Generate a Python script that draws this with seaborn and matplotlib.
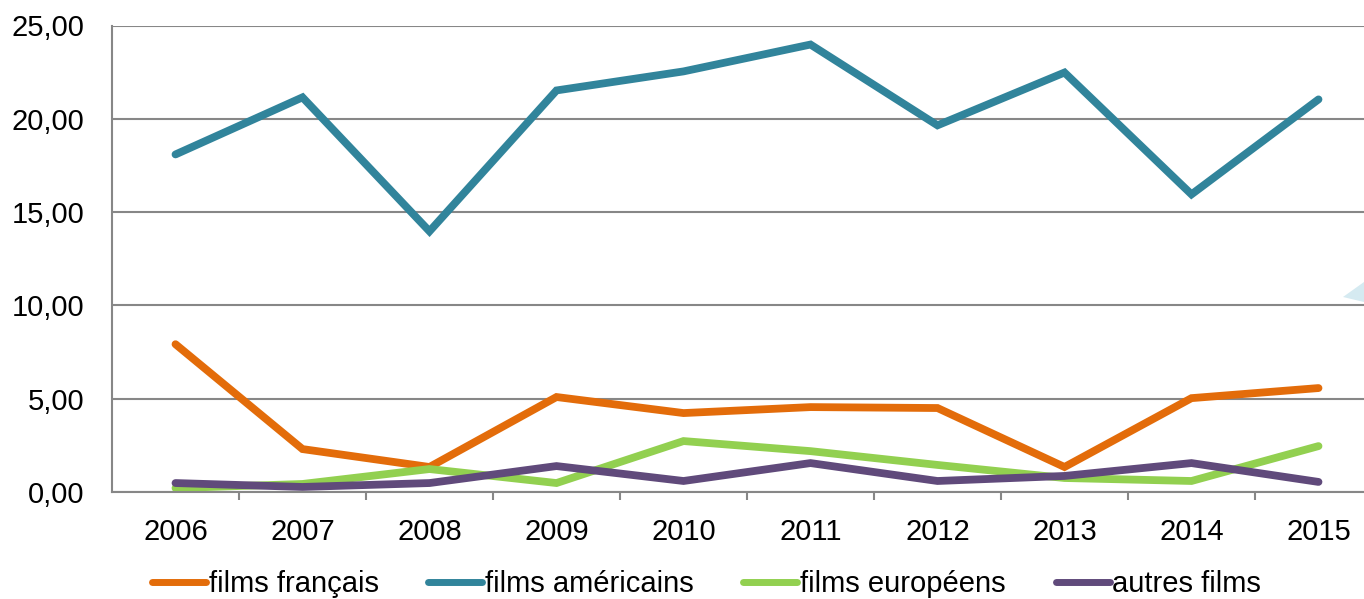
import matplotlib
matplotlib.use("Agg")
import matplotlib.pyplot as plt
import matplotlib.ticker as mticker
from matplotlib.patches import Polygon
import seaborn as sns
import pandas as pd

years = ["2006", "2007", "2008", "2009", "2010", "2011", "2012", "2013", "2014", "2015"]
series_names = ["films français", "films américains", "films européens", "autres films"]
films_francais = [7.92, 2.30, 1.34, 5.09, 4.23, 4.55, 4.50, 1.34, 5.03, 5.57]
films_americains = [18.09, 21.15, 13.97, 21.52, 22.54, 23.98, 19.65, 22.48, 15.95, 21.04]
films_europeens = [0.21, 0.43, 1.23, 0.48, 2.73, 2.19, 1.45, 0.75, 0.59, 2.46]
autres_films = [0.48, 0.27, 0.48, 1.39, 0.59, 1.55, 0.59, 0.86, 1.55, 0.54]
colors = ["#E36C0A", "#31849B", "#92D050", "#604A7B"]

sns.set_theme(style="white")
plt.rcParams["font.family"] = ["Liberation Sans", "DejaVu Sans"]

rows = []
for name, vals in zip(series_names, [films_francais, films_americains, films_europeens, autres_films]):
    for i, (yr, v) in enumerate(zip(years, vals)):
        rows.append({"idx": i, "year": yr, "serie": name, "valeur": v})
df = pd.DataFrame(rows)

W, H = 1364, 599
fig = plt.figure(figsize=(W / 100, H / 100), dpi=100)
left_px, right_px = 112, 1382
top_px, bot_px = 25.5, 492
ax = fig.add_axes([left_px / W, 1 - bot_px / H, (right_px - left_px) / W, (bot_px - top_px) / H])

sns.lineplot(data=df, x="idx", y="valeur", hue="serie", hue_order=series_names,
             palette=colors, linewidth=5.6, ax=ax, legend=False,
             solid_capstyle="round", solid_joinstyle="miter", sort=False)

ax.set_xlim(-0.5, len(years) - 0.5)
ax.set_ylim(0, 25)
ax.set_yticks([0, 5, 10, 15, 20, 25])
ax.yaxis.set_major_formatter(mticker.FuncFormatter(lambda v, p: f"{v:.2f}".replace(".", ",")))
ax.set_xticks(range(len(years)))
ax.set_xticklabels(years)
ax.set_xticks([i + 0.5 for i in range(len(years) - 1)], minor=True)
ax.set_xlabel("")
ax.set_ylabel("")

grid_c = "#878787"
ax.grid(axis="y", color=grid_c, linewidth=1.5)
ax.set_axisbelow(True)
for s in ["top", "right"]:
    ax.spines[s].set_visible(False)
for s in ["left", "bottom"]:
    ax.spines[s].set_color(grid_c)
    ax.spines[s].set_linewidth(1.5)

ax.tick_params(axis="y", which="both", left=False, length=0, pad=20, labelsize=21, labelcolor="black")
ax.tick_params(axis="x", which="major", bottom=True, length=0, pad=19, labelsize=21, labelcolor="black")
ax.tick_params(axis="x", which="minor", bottom=True, length=6, width=1.5, color=grid_c, direction="out")

handles = [plt.Line2D([0], [0], color=c, linewidth=5, solid_capstyle="round") for c in colors]
fig.legend(handles, series_names, loc="center", bbox_to_anchor=(0.518, 1 - 584 / H),
           ncol=4, frameon=False, fontsize=21, handlelength=1.85, handletextpad=0.1,
           columnspacing=1.7, borderpad=0, borderaxespad=0, labelcolor="black")

tri = Polygon([[1343 / W, 1 - 297 / H], [1, 1 - 282 / H], [1, 1 - 302 / H]],
              closed=True, transform=fig.transFigure, facecolor="#D5EAF1", edgecolor="none")
fig.patches.append(tri)

fig.savefig("out.png", dpi=100)
